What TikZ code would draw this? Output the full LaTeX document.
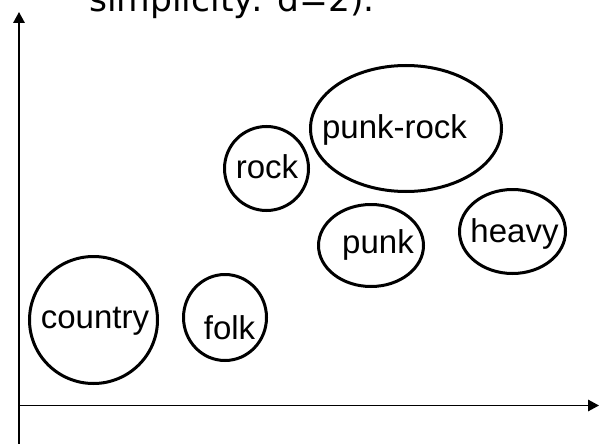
\documentclass[tikz,border=0pt]{standalone}
\usepackage{fontspec}
\setmainfont{Liberation Sans}
\newfontfamily\notefont{DejaVu Sans}
\usetikzlibrary{shapes.geometric,arrows.meta}

\tikzset{
  genre/.style={draw, ellipse, line width=3pt, inner sep=0pt},
  genrelabel/.style={anchor=base, inner sep=0pt, font=\fontsize{33}{38}\selectfont},
  axis/.style={line width=1.6pt, -{Triangle[length=11pt,width=11.5pt]}},
}

\begin{document}
\begin{tikzpicture}[x=1pt,y=-1pt]
  \useasboundingbox (0,0) rectangle (605,444);
  \clip (0,0) rectangle (605,444);

  % caption line running off the top edge
  \node[anchor=base west, inner sep=0pt, font=\notefont\fontsize{34.5}{40}\selectfont]
    (note) at (89,12) {simplicity: d=2).};

  % axes
  \coordinate (origin) at (19,405.5);
  \coordinate (ybottom) at (19,444);
  \coordinate (ytop) at (19,12);
  \coordinate (xend) at (599,405.5);
  \draw[line width=1.6pt] (origin) -- (ybottom);
  \draw[axis] (origin) -- (ytop);
  \draw[axis] (origin) -- (xend);

  % genre regions
  \node[genre, minimum width=128pt, minimum height=127pt] (country)  at (93.5,320) {};
  \node[genre, minimum width=83pt,  minimum height=86pt]  (folk)     at (225,317.5) {};
  \node[genre, minimum width=84pt,  minimum height=84pt]  (rock)     at (266.5,168.5) {};
  \node[genre, minimum width=191pt, minimum height=126pt] (punkrock) at (406,128.5) {};
  \node[genre, minimum width=105pt, minimum height=82pt]  (punk)     at (371,245.5) {};
  \node[genre, minimum width=106pt, minimum height=84pt]  (heavy)    at (512.5,231.5) {};

  % genre names
  \node[genrelabel] (countryname)  at (95,328)    {country};
  \node[genrelabel] (folkname)     at (229.5,339) {folk};
  \node[genrelabel] (rockname)     at (267,178)   {rock};
  \node[genrelabel] (punkrockname) at (394.5,138) {punk-rock};
  \node[genrelabel] (punkname)     at (378,253)   {punk};
  \node[genrelabel] (heavyname)    at (514.5,242) {heavy};
\end{tikzpicture}
\end{document}
